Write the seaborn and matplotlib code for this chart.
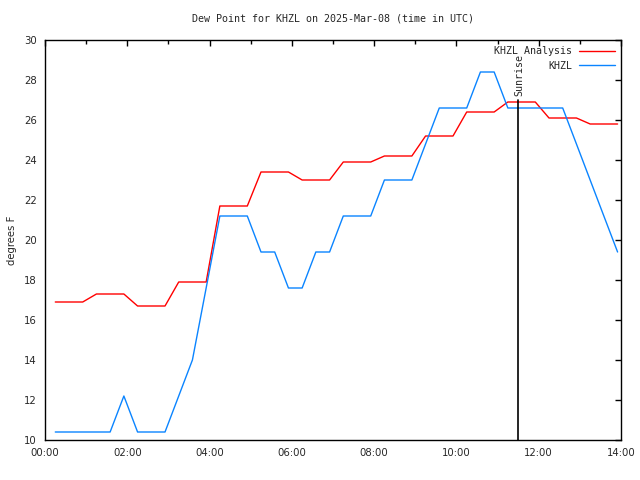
import numpy as np
import pandas as pd
import matplotlib
matplotlib.use("Agg")
import matplotlib.pyplot as plt
import seaborn as sns

# Data (hours UTC, dew point in F)
times = [0.25, 0.583, 0.917, 1.25, 1.583, 1.917, 2.25, 2.583, 2.917, 3.25, 3.583, 3.917,
         4.25, 4.583, 4.917, 5.25, 5.583, 5.917, 6.25, 6.583, 6.917, 7.25, 7.583, 7.917,
         8.25, 8.583, 8.917, 9.25, 9.583, 9.917, 10.25, 10.583, 10.917, 11.25, 11.583, 11.917,
         12.25, 12.583, 12.917, 13.25, 13.583, 13.917]
khzl_analysis = [16.9, 16.9, 16.9, 17.3, 17.3, 17.3, 16.7, 16.7, 16.7, 17.9, 17.9, 17.9,
                 21.7, 21.7, 21.7, 23.4, 23.4, 23.4, 23.0, 23.0, 23.0, 23.9, 23.9, 23.9,
                 24.2, 24.2, 24.2, 25.2, 25.2, 25.2, 26.4, 26.4, 26.4, 26.9, 26.9, 26.9,
                 26.1, 26.1, 26.1, 25.8, 25.8, 25.8]
khzl = [10.4, 10.4, 10.4, 10.4, 10.4, 12.2, 10.4, 10.4, 10.4, 12.2, 14.0, 17.6,
        21.2, 21.2, 21.2, 19.4, 19.4, 17.6, 17.6, 19.4, 19.4, 21.2, 21.2, 21.2,
        23.0, 23.0, 23.0, 24.8, 26.6, 26.6, 26.6, 28.4, 28.4, 26.6, 26.6, 26.6,
        26.6, 26.6, 24.8, 23.0, 21.2, 19.4]
series_names = ["KHZL Analysis", "KHZL"]
x_ticks = [0, 2, 4, 6, 8, 10, 12, 14]
x_tick_labels = ["00:00", "02:00", "04:00", "06:00", "08:00", "10:00", "12:00", "14:00"]
y_ticks = [10, 12, 14, 16, 18, 20, 22, 24, 26, 28, 30]
sunrise_time = 11.5
sunrise_top = 27.0
title = "Dew Point for KHZL on 2025-Mar-08 (time in UTC)"

df = pd.DataFrame({
    "time": times * 2,
    "dewpoint": khzl_analysis + khzl,
    "series": [series_names[0]] * len(times) + [series_names[1]] * len(times),
})

sns.set_style("white")
plt.rcParams["font.family"] = ["DejaVu Sans"]

fig = plt.figure(figsize=(6.4, 4.8), dpi=100)
ax = fig.add_axes([45 / 640, 40 / 480, 576 / 640, 400 / 480])

palette = {series_names[0]: "#ff0000", series_names[1]: "#0a84ff"}
sns.lineplot(data=df, x="time", y="dewpoint", hue="series", palette=palette,
             linewidth=1.0, ax=ax, legend=True)

ax.set_xlim(0, 14)
ax.set_ylim(10, 30)
ax.set_xticks(x_ticks)
ax.set_xticklabels(x_tick_labels)
ax.set_xticks(np.arange(1, 14, 2), minor=True)
ax.set_yticks(y_ticks)
ax.tick_params(which="both", direction="in", top=True, right=True, labelsize=7.3,
               length=4, width=1, color="black", pad=6)
ax.tick_params(which="minor", length=3)
for s in ax.spines.values():
    s.set_color("black")
    s.set_linewidth(1.0)

ax.set_xlabel("")
ax.set_ylabel("degrees F", fontsize=7.3, labelpad=5)

# Sunrise line
ax.plot([sunrise_time, sunrise_time], [10, sunrise_top], color="black", linewidth=1.2)
ax.text(sunrise_time + 0.02, sunrise_top + 0.2, "Sunrise", rotation=90, ha="center", va="bottom",
        fontsize=7.2, family="DejaVu Sans Mono")

ax.set_title(title, fontsize=7.2, family="DejaVu Sans Mono", pad=13)

leg = ax.legend(loc="upper right", frameon=False, handlelength=3.6,
                markerfirst=False, borderaxespad=0.25, labelspacing=0.45, handletextpad=0.6,
                prop={"family": "DejaVu Sans Mono", "size": 7.2})
for t in leg.get_texts():
    t.set_ha("right")

fig.savefig("out.png", dpi=100)
